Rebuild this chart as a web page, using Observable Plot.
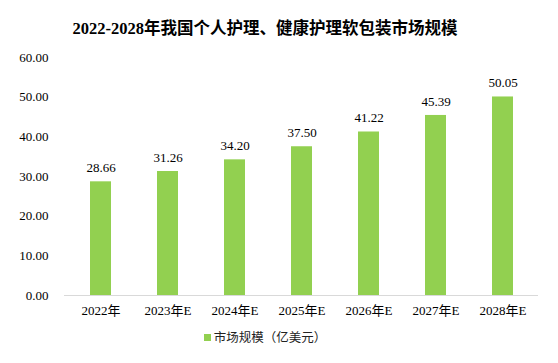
<!DOCTYPE html>
<html><head><meta charset="utf-8">
<script src="https://cdn.jsdelivr.net/npm/d3@7"></script>
<script src="https://cdn.jsdelivr.net/npm/@observablehq/plot@0.6"></script>
<style>
body{margin:0;background:#fff;}
#wrap{position:relative;width:558px;height:363px;overflow:hidden;}
#title{position:absolute;left:0;top:15px;width:530px;text-align:center;font:bold 16.5px "Liberation Serif","Noto Sans CJK SC",serif;color:#000;}
#legend{position:absolute;left:0;top:327px;width:530px;text-align:center;font:12.5px "Noto Sans CJK SC","Liberation Sans",sans-serif;color:#222;}
#legend span.sw{display:inline-block;width:7px;height:7px;background:#92D050;margin-right:3px;vertical-align:1px;}
</style></head>
<body><div id="wrap"><div id="title">2022-2028年我国个人护理、健康护理软包装市场规模</div><div id="chart"></div><div id="legend"><span class="sw"></span>市场规模（亿美元）</div></div>
<script>
const categories = ["2022年","2023年E","2024年E","2025年E","2026年E","2027年E","2028年E"];
const values = [28.66, 31.26, 34.20, 37.50, 41.22, 45.39, 50.05];
const yTicks = [0, 10, 20, 30, 40, 50, 60];
const data = categories.map((c, i) => ({cat: c, v: values[i]}));
const font = '"Liberation Serif","Noto Sans CJK SC",serif';
const chart = Plot.plot({
  width: 558, height: 363,
  marginTop: 57, marginBottom: 68, marginLeft: 64, marginRight: 20,
  style: {fontFamily: font, fontSize: "13px", color: "#000", background: "#fff"},
  x: {domain: categories, paddingInner: 0.69, paddingOuter: 0.345, label: null, tickSize: 0, tickPadding: 10},
  y: {domain: [0, 60], ticks: yTicks, tickFormat: d3.format(".2f"), label: null, tickSize: 0, tickPadding: 16},
  marks: [
    Plot.barY(data, {x: "cat", y: "v", fill: "#92D050"}),
    Plot.ruleY([0], {stroke: "#d9d9d9", strokeWidth: 1}),
    Plot.text(data, {x: "cat", y: "v", text: d => d.v.toFixed(2), dy: -14, fontSize: 13, fill: "#000"})
  ]
});
document.getElementById("chart").appendChild(chart);
</script></body></html>
